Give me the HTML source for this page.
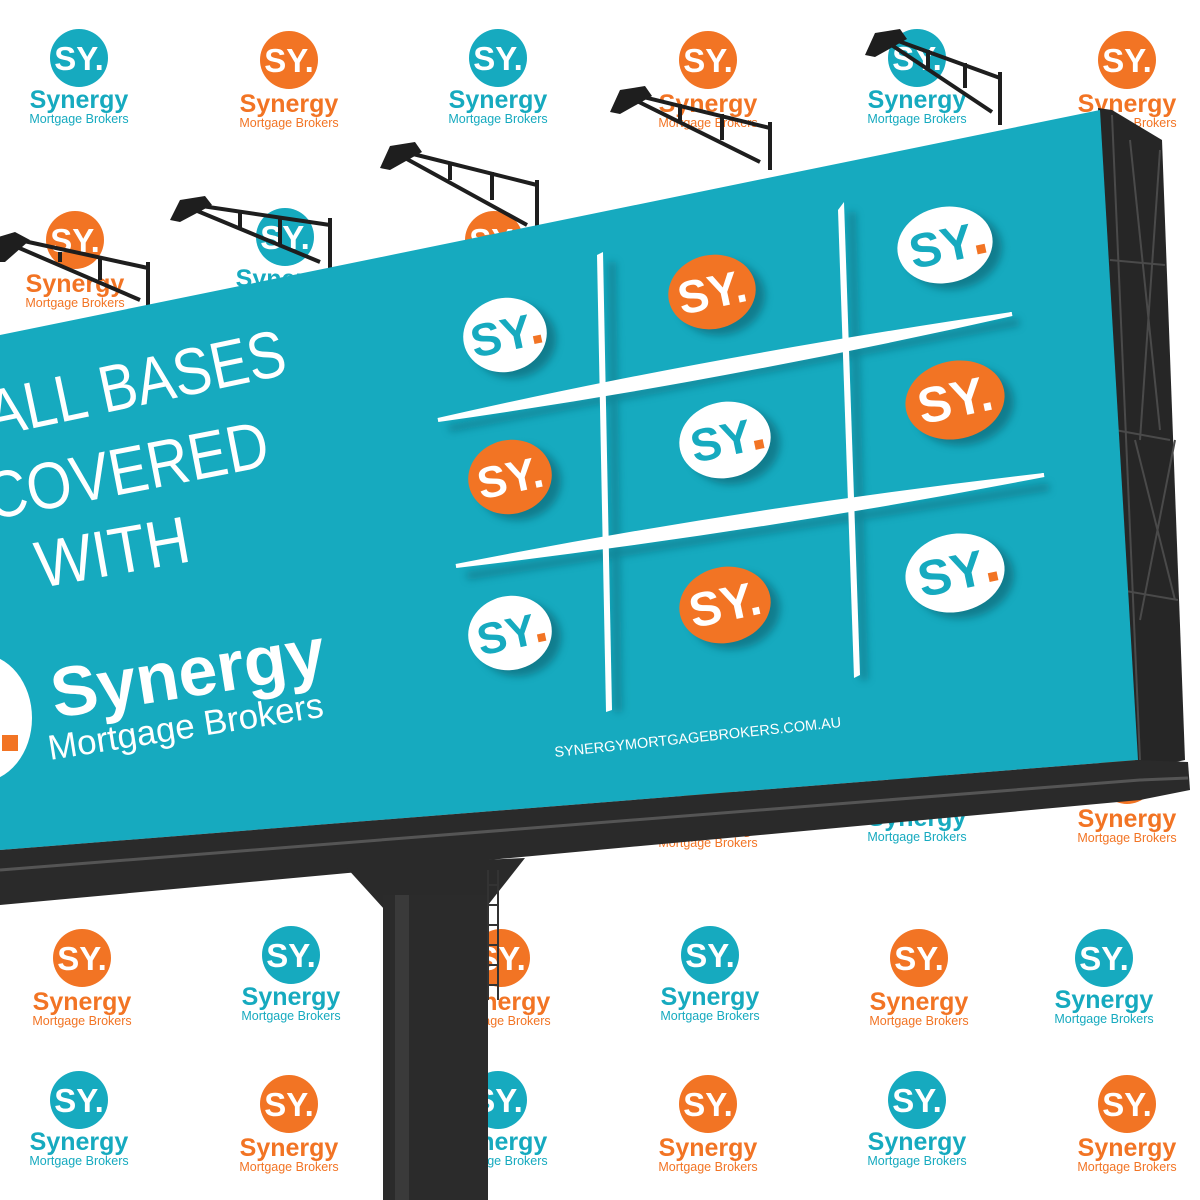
<!DOCTYPE html>
<html><head><meta charset="utf-8"><style>
html,body{margin:0;padding:0;background:#fff;}
svg{display:block;}
text{font-family:"Liberation Sans","DejaVu Sans",sans-serif;}
</style></head><body>
<svg width="1200" height="1200" viewBox="0 0 1200 1200" xmlns="http://www.w3.org/2000/svg">
<defs>
<g id="lt">
<circle cx="0" cy="0" r="29" fill="#16aabf"/>
<text x="0" y="12" text-anchor="middle" font-size="33" font-weight="bold" fill="#fff">SY.</text>
<text x="0" y="50" text-anchor="middle" font-size="25" font-weight="bold" fill="#16aabf">Synergy</text>
<text x="0" y="65" text-anchor="middle" font-size="12.5" fill="#16aabf">Mortgage Brokers</text>
</g>
<g id="lo">
<circle cx="0" cy="0" r="29" fill="#f27424"/>
<text x="0" y="12" text-anchor="middle" font-size="33" font-weight="bold" fill="#fff">SY.</text>
<text x="0" y="52" text-anchor="middle" font-size="25" font-weight="bold" fill="#f27424">Synergy</text>
<text x="0" y="67" text-anchor="middle" font-size="12.5" fill="#f27424">Mortgage Brokers</text>
</g>
<filter id="sh" x="-50%" y="-50%" width="200%" height="200%"><feGaussianBlur stdDeviation="4"/></filter>
</defs>

<use href="#lt" x="79" y="58"/><use href="#lo" x="289" y="60"/><use href="#lt" x="498" y="58"/>
<use href="#lo" x="708" y="60"/><use href="#lt" x="917" y="58"/><use href="#lo" x="1127" y="60"/>
<use href="#lo" x="75" y="240"/><use href="#lt" x="285" y="237"/><use href="#lo" x="494" y="240"/>
<use href="#lo" x="1127" y="775"/><use href="#lt" x="917" y="776"/><use href="#lo" x="708" y="780"/>
<use href="#lo" x="82" y="958"/><use href="#lt" x="291" y="955"/><use href="#lo" x="501" y="958"/>
<use href="#lt" x="710" y="955"/><use href="#lo" x="919" y="958"/><use href="#lt" x="1104" y="958"/>
<use href="#lt" x="79" y="1100"/><use href="#lo" x="289" y="1104"/><use href="#lt" x="498" y="1100"/>
<use href="#lo" x="708" y="1104"/><use href="#lt" x="917" y="1100"/><use href="#lo" x="1127" y="1104"/>

<g stroke="#1e1e1e" stroke-width="4" fill="none">
<path d="M10 238 L148 268 M10 244 L140 300 M60 252 L60 262 M100 258 L100 280 M148 262 L148 310"/>
<path d="M195 205 L330 225 M195 210 L320 262 M240 212 L240 230 M280 218 L280 245 M330 218 L330 270"/>
<path d="M405 152 L537 185 M405 158 L527 225 M450 162 L450 180 M492 172 L492 200 M537 180 L537 235"/>
<path d="M635 95 L770 128 M635 100 L760 162 M680 104 L680 122 M722 114 L722 140 M770 122 L770 170"/>
<path d="M890 38 L1000 78 M890 44 L992 112 M928 50 L928 68 M965 63 L965 88 M1000 72 L1000 125"/>
</g>
<g fill="#1e1e1e">
<path d="M-5 238 L15 232 L30 240 L5 262 L-5 262Z"/>
<path d="M180 200 L205 196 L212 205 L180 222 L170 220Z"/>
<path d="M390 146 L415 142 L422 152 L390 170 L380 168Z"/>
<path d="M620 90 L645 86 L652 96 L620 114 L610 112Z"/>
<path d="M875 33 L900 29 L907 39 L875 57 L865 55Z"/>
</g>

<path d="M1098 108 L1112 110 L1162 140 L1185 760 L1140 770 L1135 760Z" fill="#262626"/>
<g stroke="#4a4a4a" stroke-width="2" fill="none">
<path d="M1112 115 L1140 760 M1130 140 L1160 430 M1160 150 L1140 440 M1135 440 L1175 600 M1175 440 L1140 620 M1110 260 L1165 265 M1115 430 L1170 440 M1120 590 L1178 600"/>
</g>
<path d="M0 335 L1100 110 L1138 760 L0 850Z" fill="#16aabf"/>
<path d="M0 850 L1138 760 L1188 762 L1190 790 L1140 800 L0 905Z" fill="#2a2a2a"/>
<path d="M0 870 L1140 780 L1188 778" stroke="#555" stroke-width="3" fill="none"/>
<path d="M345 866 L525 858 L488 905 L385 910Z" fill="#2a2a2a"/>
<rect x="383" y="895" width="105" height="305" fill="#2b2b2b"/>
<rect x="395" y="895" width="14" height="305" fill="#3a3a3a"/>
<g stroke="#333" stroke-width="2"><line x1="488" y1="870" x2="488" y2="1000"/><line x1="498" y1="870" x2="498" y2="1000"/>
<path d="M488 885 H498 M488 905 H498 M488 925 H498 M488 945 H498 M488 965 H498 M488 985 H498"/></g>

<g fill="#fff">
<text transform="translate(-8,437) rotate(-12) scale(0.86,1)" font-size="66">ALL BASES</text>
<text transform="translate(-10,520) rotate(-11) scale(0.88,1)" font-size="66">COVERED</text>
<text transform="translate(40,588) rotate(-10) scale(0.92,1)" font-size="66">WITH</text>
<text transform="translate(55,718) rotate(-9)" font-size="70" font-weight="bold">Synergy</text>
<text transform="translate(50,760) rotate(-9)" font-size="35">Mortgage Brokers</text>
<text transform="translate(555,757) rotate(-6)" font-size="14.5">SYNERGYMORTGAGEBROKERS.COM.AU</text>
</g>
<ellipse cx="-20" cy="718" rx="52" ry="64" fill="#fff"/>
<rect x="2" y="735" width="16" height="16" fill="#f27424"/>

<g fill="#0c6f80" opacity="0.6" filter="url(#sh)">
<path d="M608 262 L616 262 L622 712 L614 712Z"/><path d="M848 212 L856 212 L868 680 L860 680Z"/>
<path d="M448 425 L1018 318 L1020 326 L450 432Z"/><path d="M466 572 L1048 483 L1050 491 L468 580Z"/>
</g>
<g fill="#fff">
<path d="M597 255 L603 252 L612 710 L606 712Z"/>
<path d="M838 210 L844 202 L860 675 L854 678Z"/>
<path d="M438 420 Q700 360 1012 314 Q720 380 438 420Z" stroke="#fff" stroke-width="4"/>
<path d="M456 566 Q740 510 1044 475 Q760 530 456 566Z" stroke="#fff" stroke-width="4"/>
</g>

<g>
<g transform="translate(505,335) rotate(-12)"><ellipse cx="8" cy="8" rx="42" ry="37" fill="#0a5f6d" opacity="0.6" filter="url(#sh)"/><ellipse rx="42" ry="37" fill="#fff"/><text x="-4" y="16" text-anchor="middle" font-size="46" font-weight="bold" fill="#16aabf">SY</text><rect x="27" y="7" width="8" height="8" fill="#f27424"/></g>
<g transform="translate(712,292) rotate(-12)"><ellipse cx="8" cy="8" rx="44" ry="37" fill="#0a5f6d" opacity="0.6" filter="url(#sh)"/><ellipse rx="44" ry="37" fill="#f27424"/><text x="0" y="16" text-anchor="middle" font-size="46" font-weight="bold" fill="#fff">SY.</text></g>
<g transform="translate(945,245) rotate(-12)"><ellipse cx="8" cy="8" rx="48" ry="38" fill="#0a5f6d" opacity="0.6" filter="url(#sh)"/><ellipse rx="48" ry="38" fill="#fff"/><text x="-4" y="17" text-anchor="middle" font-size="48" font-weight="bold" fill="#16aabf">SY</text><rect x="30" y="7" width="9" height="9" fill="#f27424"/></g>
<g transform="translate(510,477) rotate(-12)"><ellipse cx="8" cy="8" rx="42" ry="37" fill="#0a5f6d" opacity="0.6" filter="url(#sh)"/><ellipse rx="42" ry="37" fill="#f27424"/><text x="0" y="16" text-anchor="middle" font-size="44" font-weight="bold" fill="#fff">SY.</text></g>
<g transform="translate(725,440) rotate(-12)"><ellipse cx="8" cy="8" rx="46" ry="38" fill="#0a5f6d" opacity="0.6" filter="url(#sh)"/><ellipse rx="46" ry="38" fill="#fff"/><text x="-4" y="16" text-anchor="middle" font-size="46" font-weight="bold" fill="#16aabf">SY</text><rect x="28" y="7" width="9" height="9" fill="#f27424"/></g>
<g transform="translate(955,400) rotate(-12)"><ellipse cx="8" cy="8" rx="50" ry="39" fill="#0a5f6d" opacity="0.6" filter="url(#sh)"/><ellipse rx="50" ry="39" fill="#f27424"/><text x="0" y="17" text-anchor="middle" font-size="50" font-weight="bold" fill="#fff">SY.</text></g>
<g transform="translate(510,633) rotate(-12)"><ellipse cx="8" cy="8" rx="42" ry="37" fill="#0a5f6d" opacity="0.6" filter="url(#sh)"/><ellipse rx="42" ry="37" fill="#fff"/><text x="-4" y="16" text-anchor="middle" font-size="44" font-weight="bold" fill="#16aabf">SY</text><rect x="26" y="7" width="8" height="8" fill="#f27424"/></g>
<g transform="translate(725,605) rotate(-12)"><ellipse cx="8" cy="8" rx="46" ry="38" fill="#0a5f6d" opacity="0.6" filter="url(#sh)"/><ellipse rx="46" ry="38" fill="#f27424"/><text x="0" y="16" text-anchor="middle" font-size="48" font-weight="bold" fill="#fff">SY.</text></g>
<g transform="translate(955,573) rotate(-12)"><ellipse cx="8" cy="8" rx="50" ry="39" fill="#0a5f6d" opacity="0.6" filter="url(#sh)"/><ellipse rx="50" ry="39" fill="#fff"/><text x="-4" y="17" text-anchor="middle" font-size="50" font-weight="bold" fill="#16aabf">SY</text><rect x="32" y="7" width="9" height="9" fill="#f27424"/></g>
</g>
</svg>
</body></html>
